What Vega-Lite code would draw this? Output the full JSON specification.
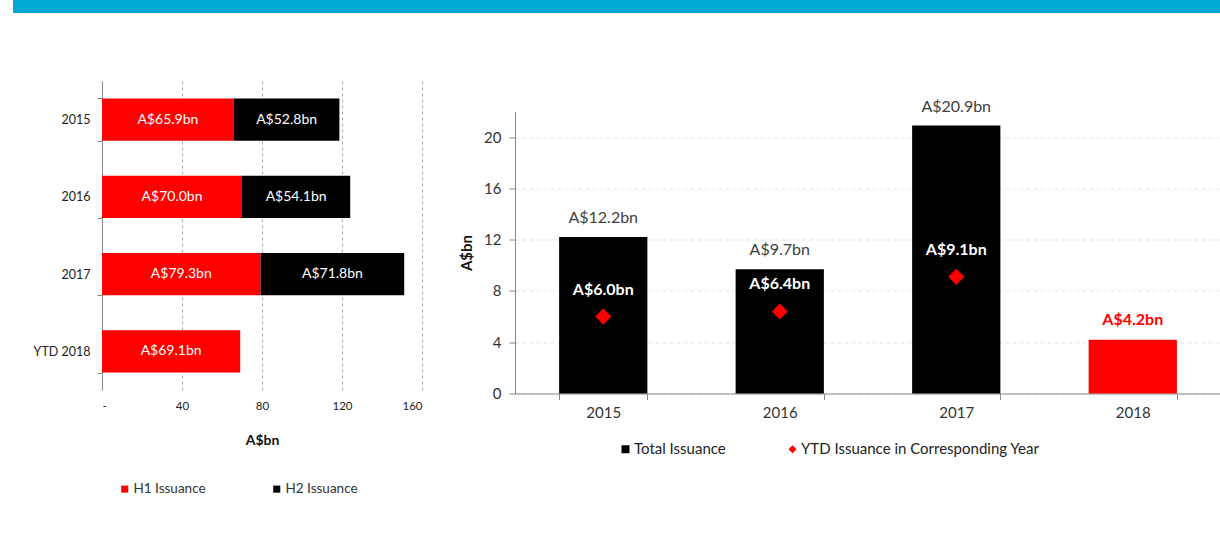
{
  "$schema": "https://vega.github.io/schema/vega-lite/v6.json",
  "padding": {"left": 13, "top": 0, "right": 0, "bottom": 0},
  "background": "white",
  "config": {"font": "Lato", "view": {"stroke": null}},
  "spacing": 62,
  "vconcat": [
    {
      "width": 1118,
      "height": 13,
      "data": {"values": [{"band": "header"}]},
      "mark": {"type": "rect", "color": "#00A8D4", "clip": false},
      "encoding": {
        "x": {"datum": 0, "type": "quantitative", "scale": {"domain": [0, 1], "range": [-89, 1118]}, "axis": null},
        "x2": {"datum": 1}
      }
    },
    {
      "resolve": {"scale": {"color": "independent", "shape": "independent"}, "legend": {"color": "independent", "shape": "independent"}},
      "hconcat": [
        {
          "width": 320,
          "height": 309,
          "data": {"values": [
            {"year": "2015", "series": "H1 Issuance", "value": 65.9, "label": "A$65.9bn"},
            {"year": "2015", "series": "H2 Issuance", "value": 52.8, "label": "A$52.8bn"},
            {"year": "2016", "series": "H1 Issuance", "value": 70.0, "label": "A$70.0bn"},
            {"year": "2016", "series": "H2 Issuance", "value": 54.1, "label": "A$54.1bn"},
            {"year": "2017", "series": "H1 Issuance", "value": 79.3, "label": "A$79.3bn"},
            {"year": "2017", "series": "H2 Issuance", "value": 71.8, "label": "A$71.8bn"},
            {"year": "YTD 2018", "series": "H1 Issuance", "value": 69.1, "label": "A$69.1bn"}
          ]},
          "layer": [
            {
              "mark": {"type": "bar"},
              "encoding": {
                "y": {"field": "year", "type": "nominal", "sort": ["2015", "2016", "2017", "YTD 2018"],
                  "scale": {"paddingInner": 0.45, "paddingOuter": 0.225},
                  "axis": {"title": null, "tickBand": "extent", "tickSize": 5, "tickColor": "#888", "domainColor": "#888",
                    "labelFontSize": 12.5, "labelColor": "#222", "labelPadding": 7, "minExtent": 89, "maxExtent": 89, "grid": false}},
                "x": {"field": "value", "type": "quantitative", "stack": "zero",
                  "scale": {"domain": [0, 160], "nice": false},
                  "axis": {"title": "A$bn", "titleFontSize": 14, "titleFontWeight": "bold", "titleColor": "#111", "titlePadding": 22,
                    "values": [0, 40, 80, 120, 160], "labelExpr": "datum.value == 0 ? '-' : datum.label",
                    "domain": false, "ticks": false, "grid": true, "gridDash": [3, 3], "gridColor": "#aaa",
                    "labelFontSize": 11.5, "labelColor": "#222", "labelPadding": 10}},
                "color": {"field": "series", "type": "nominal",
                  "scale": {"domain": ["H1 Issuance", "H2 Issuance"], "range": ["#FF0000", "#000000"]},
                  "legend": {"title": null, "orient": "none", "legendX": 16, "legendY": 401, "direction": "horizontal",
                    "symbolType": "square", "symbolSize": 50, "labelFontSize": 13.5, "labelColor": "#333",
                    "labelOffset": 2, "columnPadding": 64, "symbolStrokeWidth": 0}},
                "order": {"field": "series"}
              }
            },
            {
              "transform": [
                {"stack": "value", "groupby": ["year"], "sort": [{"field": "series"}], "as": ["x0", "x1"]},
                {"fold": ["x0", "x1"], "as": ["edge", "pos"]}
              ],
              "mark": {"type": "text", "color": "white", "fontSize": 14},
              "encoding": {
                "y": {"field": "year", "type": "nominal", "sort": ["2015", "2016", "2017", "YTD 2018"]},
                "x": {"aggregate": "mean", "field": "pos", "type": "quantitative"},
                "text": {"field": "label"},
                "detail": {"field": "series"}
              }
            }
          ]
        },
        {
          "width": 706,
          "height": 282,
          "data": {"values": [
            {"year": "2015", "series": "Total Issuance", "value": 12.2, "label": "A$12.2bn"},
            {"year": "2016", "series": "Total Issuance", "value": 9.7, "label": "A$9.7bn"},
            {"year": "2017", "series": "Total Issuance", "value": 20.9, "label": "A$20.9bn"},
            {"year": "2018", "series": "Total Issuance", "value": 4.2, "label": "A$4.2bn"},
            {"year": "2015", "series": "YTD Issuance in Corresponding Year", "value": 6.0, "label": "A$6.0bn"},
            {"year": "2016", "series": "YTD Issuance in Corresponding Year", "value": 6.4, "label": "A$6.4bn"},
            {"year": "2017", "series": "YTD Issuance in Corresponding Year", "value": 9.1, "label": "A$9.1bn"}
          ]},
          "encoding": {
            "x": {"field": "year", "type": "nominal", "sort": ["2015", "2016", "2017", "2018"],
              "scale": {"paddingInner": 0.5, "paddingOuter": 0.25},
              "axis": {"title": null, "tickBand": "extent", "tickSize": 6, "labelAngle": 0, "labelFontSize": 15,
                "labelColor": "#333", "labelPadding": 6, "domainColor": "#888", "tickColor": "#888"}},
            "y": {"field": "value", "type": "quantitative",
              "scale": {"domain": [0, 22], "nice": false},
              "axis": {"title": "A$bn", "titleFontSize": 15, "titleFontWeight": "bold", "titleColor": "#111", "titlePadding": 9,
                "values": [0, 4, 8, 12, 16, 20], "tickSize": 6, "tickColor": "#888", "domainColor": "#888",
                "labelFontSize": 15, "labelColor": "#333", "labelPadding": 8,
                "grid": true, "gridColor": "#e3e3e3", "gridDash": [4, 3]}}
          },
          "layer": [
            {
              "transform": [{"filter": "datum.series == 'Total Issuance'"}],
              "mark": {"type": "bar"},
              "encoding": {
                "color": {"field": "series", "type": "nominal",
                  "condition": {"test": "datum.year == '2018'", "value": "#FF0000"},
                  "scale": {"domain": ["Total Issuance", "YTD Issuance in Corresponding Year"], "range": ["#000000", "#FF0000"]},
                  "legend": {"title": null, "orient": "none", "legendX": 95, "legendY": 322, "padding": 8, "direction": "horizontal",
                    "symbolSize": 64, "labelFontSize": 15, "labelColor": "#222", "labelOffset": 1, "columnPadding": 59,
                    "symbolStrokeWidth": 0, "labelLimit": 400}}
              }
            },
            {
              "transform": [{"filter": "datum.series == 'Total Issuance' && datum.year != '2018'"}],
              "mark": {"type": "text", "fontSize": 16, "color": "#404040", "dy": -19},
              "encoding": {"text": {"field": "label"}}
            },
            {
              "transform": [{"filter": "datum.series == 'Total Issuance' && datum.year == '2018'"}],
              "mark": {"type": "text", "fontSize": 16, "fontWeight": "bold", "color": "#FF0000", "dy": -20},
              "encoding": {"text": {"field": "label"}}
            },
            {
              "transform": [{"filter": "datum.series != 'Total Issuance'"}],
              "mark": {"type": "point", "filled": true, "size": 260, "opacity": 1, "strokeWidth": 0},
              "encoding": {
                "color": {"field": "series", "type": "nominal"},
                "shape": {"field": "series", "type": "nominal",
                  "scale": {"domain": ["Total Issuance", "YTD Issuance in Corresponding Year"], "range": ["square", "diamond"]},
                  "legend": {"title": null}}
              }
            },
            {
              "transform": [{"filter": "datum.series != 'Total Issuance'"}],
              "mark": {"type": "text", "fontSize": 16, "fontWeight": "bold", "color": "white", "dy": -27},
              "encoding": {"text": {"field": "label"}}
            }
          ]
        }
      ],
      "spacing": 37,
      "center": true
    }
  ]
}
